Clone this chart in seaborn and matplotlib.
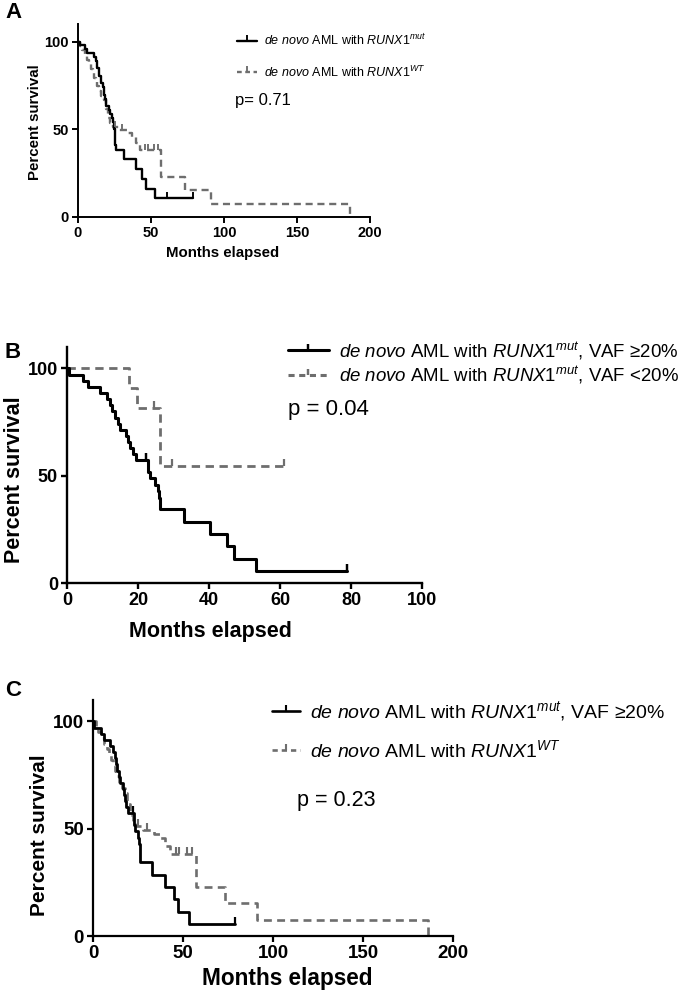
import numpy as np
import pandas as pd
import seaborn as sns
from matplotlib import pyplot as plt
from matplotlib.lines import Line2D

# Kaplan-Meier step data (months, percent survival after event)
mut_all_t = [1.5, 5.0, 6.5, 11.0, 12.2, 13.0, 14.5, 16.0, 16.8, 17.5, 18.5, 19.5, 21.0,
             22.0, 23.0, 23.8, 24.5, 25.0, 25.5, 26.0, 31.5, 39.7, 43.6, 46.6, 52.7]
mut_all_s = [97.8, 95.7, 93.5, 91.3, 89.1, 84.8, 80.4, 76.1, 73.9, 69.6, 67.4, 63.0, 60.9,
             58.7, 56.5, 54.3, 50.0, 45.7, 41.3, 38.4, 32.8, 27.4, 21.6, 16.1, 10.7]
mut_all_end = 79.0
mut_all_cens = [61.3, 79.0]

mut_high_t = [0.7, 4.6, 6.0, 9.3, 11.3, 12.0, 12.8, 13.5, 14.3, 15.0, 16.5, 17.2, 17.8,
              18.5, 19.5, 22.8, 23.5, 24.9, 25.5, 26.0, 26.3, 33.0, 40.2, 45.0, 47.0, 53.3]
mut_high_s = [97.1, 94.3, 91.4, 88.6, 85.7, 82.9, 80.0, 77.1, 74.3, 71.4, 68.6, 65.7, 62.9,
              60.0, 57.1, 51.9, 48.9, 45.8, 42.7, 39.6, 34.3, 28.6, 22.9, 17.1, 11.4, 5.7]
mut_high_end = 79.0
mut_high_cens = [22.3, 79.0]

mut_low_t = [17.5, 19.8, 26.2]
mut_low_s = [90.9, 81.8, 54.5]
mut_low_end = 61.0
mut_low_cens = [24.5, 29.5, 61.0]

wt_t = [1.5, 3.0, 4.5, 6.0, 7.5, 9.0, 10.0, 11.0, 12.0, 13.0, 14.5, 16.0, 17.5, 19.0,
        20.5, 22.0, 24.0, 28.0, 34.0, 37.0, 40.0, 42.5, 57.0, 73.5, 91.0, 186.0]
wt_s = [97.4, 94.9, 92.3, 89.7, 87.2, 84.6, 82.1, 79.5, 76.9, 74.4, 71.8, 69.2, 66.7, 61.5,
        56.4, 53.8, 51.3, 49.5, 47.7, 45.8, 42.0, 38.3, 22.9, 15.3, 7.6, 0.0]
wt_end = 186.0
wt_cens = [25.0, 30.0, 46.0, 48.0, 52.0, 55.0]

lbl_mut = r"$\mathit{de\ novo}$ AML with $\mathit{RUNX1}^{\mathit{mut}}$"
lbl_wt = r"$\mathit{de\ novo}$ AML with $\mathit{RUNX1}^{\mathit{WT}}$"
lbl_high = r"$\mathit{de\ novo}$ AML with $\mathit{RUNX1}^{\mathit{mut}}$, VAF ≥20%"
lbl_low = r"$\mathit{de\ novo}$ AML with $\mathit{RUNX1}^{\mathit{mut}}$, VAF <20%"

BLACK = "#000000"
GREY = "#6e6e6e"
W, H = 685, 997


def km_frame(times, surv, end):
    t = [0.0] + list(times)
    s = [100.0] + list(surv)
    if end > t[-1]:
        t.append(end)
        s.append(s[-1])
    return pd.DataFrame({"t": t, "s": s})


def draw_curve(ax, times, surv, end, cens, color, lw, dashed):
    df = km_frame(times, surv, end)
    ls = (0, (3, 2)) if dashed else "-"
    sns.lineplot(data=df, x="t", y="s", ax=ax, estimator=None, sort=False,
                 drawstyle="steps-post", color=color, linewidth=lw,
                 linestyle=ls, clip_on=False, zorder=3 if not dashed else 2)
    # censor ticks sit on the step curve
    ct = np.array(cens)
    idx = np.searchsorted(df["t"].values, ct, side="right") - 1
    cs = df["s"].values[idx]
    sns.scatterplot(x=ct, y=cs, ax=ax, marker=2, s=lw * 12, color=color,
                    linewidth=lw * 0.8, clip_on=False, zorder=4, legend=False)


def style_axis(ax, xmax, xstep, tick_fs, label_fs, spine_w, box, xlab_px, ylab_px):
    ax.set_xlim(0, xmax)
    ax.set_ylim(0, 110)
    ax.set_xticks(np.arange(0, xmax + 1, xstep))
    ax.set_yticks([0, 50, 100])
    sns.despine(ax=ax)
    for sp in ["left", "bottom"]:
        ax.spines[sp].set_linewidth(spine_w)
    ax.tick_params(direction="out", length=4.5, width=spine_w, labelsize=tick_fs, pad=2)
    for lab in ax.get_xticklabels() + ax.get_yticklabels():
        lab.set_fontweight("bold")
    left, top, right, bottom = box
    ax.set_xlabel("Months elapsed", fontsize=label_fs[0], fontweight="bold", va="center")
    ax.set_ylabel("Percent survival", fontsize=label_fs[1], fontweight="bold", va="center")
    ax.xaxis.set_label_coords((xlab_px[0] - left) / (right - left),
                              (bottom - xlab_px[1]) / (bottom - top))
    ax.yaxis.set_label_coords((ylab_px[0] - left) / (right - left),
                              (bottom - ylab_px[1]) / (bottom - top))


def make_axes(box):
    left, top, right, bottom = box
    return fig.add_axes([left / W, 1 - bottom / H, (right - left) / W, (bottom - top) / H])


def handles(lw):
    h1 = Line2D([], [], color=BLACK, lw=lw, marker=2, ms=4, mew=lw * 0.8)
    h2 = Line2D([], [], color=GREY, lw=lw, ls=(0, (2, 1.5)), marker=2, ms=4, mew=lw * 0.8)
    return [h1, h2]


sns.set_style("ticks", rc={"text.color": "black", "axes.labelcolor": "black",
                           "xtick.color": "black", "ytick.color": "black",
                           "axes.edgecolor": "black"})
plt.rcParams["font.family"] = ["Liberation Sans", "DejaVu Sans"]
plt.rcParams["mathtext.fontset"] = "custom"
plt.rcParams["mathtext.rm"] = "Liberation Sans"
plt.rcParams["mathtext.it"] = "Liberation Sans:italic"
plt.rcParams["mathtext.bf"] = "Liberation Sans:bold"

fig = plt.figure(figsize=(W / 100, H / 100), dpi=100)

# ---- panel A
boxA = (78, 24, 370, 217)
axA = make_axes(boxA)
draw_curve(axA, wt_t, wt_s, wt_end, wt_cens, GREY, 1.7, True)
draw_curve(axA, mut_all_t, mut_all_s, mut_all_end, mut_all_cens, BLACK, 1.7, False)
style_axis(axA, 200, 50, 10.5, (10.8, 10.8), 1.4, boxA, (223, 253), (35, 122))
axA.legend(handles(1.7), [lbl_mut, lbl_wt], loc="upper left",
           bbox_to_anchor=(237 / W, 1 - 33 / H), bbox_transform=fig.transFigure,
           frameon=False, fontsize=9, handlelength=1.6, handletextpad=0.6,
           labelspacing=1.3, borderpad=0, borderaxespad=0)
fig.text(235 / W, 1 - 101 / H, "p= 0.71", fontsize=12, va="center")
fig.text(5 / W, 1 - 12 / H, "A", fontsize=16, fontweight="bold", va="center")

# ---- panel B
boxB = (67, 347, 422, 583)
axB = make_axes(boxB)
draw_curve(axB, mut_low_t, mut_low_s, mut_low_end, mut_low_cens, GREY, 2.0, True)
draw_curve(axB, mut_high_t, mut_high_s, mut_high_end, mut_high_cens, BLACK, 2.2, False)
style_axis(axB, 100, 20, 13, (15.5, 15.5), 1.7, boxB, (210, 632), (15, 480))
axB.legend(handles(2.2), [lbl_high, lbl_low], loc="upper left",
           bbox_to_anchor=(288 / W, 1 - 340 / H), bbox_transform=fig.transFigure,
           frameon=False, fontsize=13.4, handlelength=2.2, handletextpad=0.55,
           labelspacing=0.15, borderpad=0, borderaxespad=0)
fig.text(288 / W, 1 - 410 / H, "p = 0.04", fontsize=16, va="center")
fig.text(5 / W, 1 - 353 / H, "B", fontsize=16, fontweight="bold", va="center")

# ---- panel C
boxC = (93, 700, 453, 936)
axC = make_axes(boxC)
draw_curve(axC, wt_t, wt_s, wt_end, wt_cens, GREY, 1.9, True)
draw_curve(axC, mut_high_t, mut_high_s, mut_high_end, mut_high_cens, BLACK, 2.0, False)
style_axis(axC, 200, 50, 13.5, (16.3, 15), 1.6, boxC, (287, 978), (40, 835))
axC.legend(handles(1.9), [lbl_high, lbl_wt], loc="upper left",
           bbox_to_anchor=(272 / W, 1 - 699 / H), bbox_transform=fig.transFigure,
           frameon=False, fontsize=14, handlelength=1.45, handletextpad=0.5,
           labelspacing=0.8, borderpad=0, borderaxespad=0)
fig.text(297 / W, 1 - 800 / H, "p = 0.23", fontsize=15.5, va="center")
fig.text(5 / W, 1 - 690 / H, "C", fontsize=16, fontweight="bold", va="center")

fig.savefig("out.png", dpi=100)
